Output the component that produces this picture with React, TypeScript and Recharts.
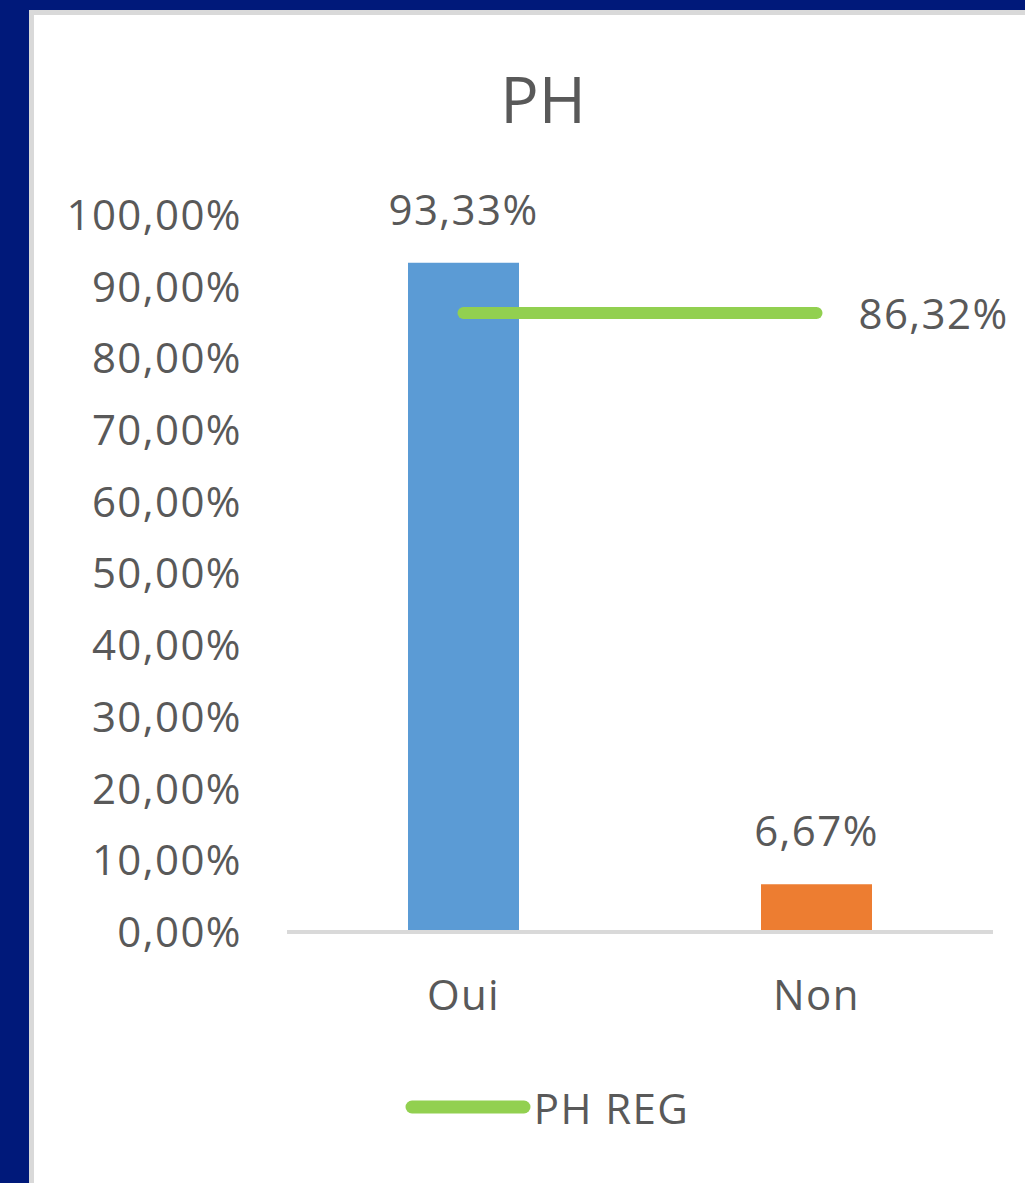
import { ComposedChart, Bar, Line, XAxis, YAxis, Legend, Cell, LabelList } from 'recharts';

const categories = ['Oui', 'Non'];
const phValues = [93.33, 6.67];
const phRegValues = [86.32, 86.32];
const barColors = ['#5b9bd5', '#ed7d31'];
const yTicks = [0, 10, 20, 30, 40, 50, 60, 70, 80, 90, 100];

const data = categories.map((c, i) => ({ name: c, ph: phValues[i], reg: phRegValues[i] }));

const FONT = '"Open Sans", sans-serif';
const GREY_TEXT = '#595959';
const SPACING = 1.4;

const fmt = (v: number) => v.toFixed(2).replace('.', ',') + '%';

// label only on the last point of the line, to its right
const RegLabel = (props: any) => {
    const { x, y, value, index } = props;
    if (index !== data.length - 1) return null;
    return (
        <text x={x + 42} y={y + 16} fill={GREY_TEXT} fontSize={42} fontFamily={FONT} letterSpacing={SPACING} textAnchor="start">
            {fmt(value)}
        </text>
    );
};

const LegendContent = () => (
    <div style={{ height: 50, display: 'flex', alignItems: 'center', justifyContent: 'center', fontFamily: FONT }}>
        <svg width={128} height={20} style={{ marginLeft: 100 }}>
            <line x1={8} y1={10} x2={120} y2={10} stroke="#92d050" strokeWidth={13} strokeLinecap="round" />
        </svg>
        <span style={{ fontSize: 42, color: GREY_TEXT, marginLeft: 2, letterSpacing: SPACING }}>PH REG</span>
    </div>
);

export default function App() {
    return (
        <div style={{ position: 'absolute', left: 0, top: 0, width: 1025, height: 1183, background: '#00197a', overflow: 'hidden' }}>
            <div style={{ position: 'absolute', left: 29, top: 10, width: 1000, height: 1180, background: '#fff', borderLeft: '5px solid #d9d9d9', borderTop: '5px solid #d9d9d9' }} />
            <div style={{ position: 'absolute', left: 0, top: 126 - 70, width: 1086, textAlign: 'center', fontFamily: FONT, fontSize: 64, color: GREY_TEXT, lineHeight: '86px' }}>
                PH
            </div>
            <div style={{ position: 'absolute', left: 0, top: 0 }}>
                <ComposedChart width={1025} height={1183} data={data} margin={{ top: 215, right: 32, bottom: 51, left: 0 }} barCategoryGap={0}>
                    <XAxis
                        dataKey="name"
                        height={150}
                        axisLine={{ stroke: '#d9d9d9', strokeWidth: 4 }}
                        tickLine={false}
                        tickSize={0}
                        tickMargin={48}
                        tick={{ fill: GREY_TEXT, fontSize: 42, fontFamily: FONT, letterSpacing: SPACING }}
                    />
                    <YAxis
                        width={287}
                        domain={[0, 100]}
                        ticks={yTicks}
                        tickFormatter={fmt}
                        axisLine={false}
                        tickLine={false}
                        tickSize={0}
                        tickMargin={45}
                        tick={{ fill: GREY_TEXT, fontSize: 42, fontFamily: FONT, letterSpacing: SPACING }}
                    />
                    <Legend verticalAlign="bottom" content={<LegendContent />} />
                    <Bar dataKey="ph" barSize={111} isAnimationActive={false} legendType="none">
                        {data.map((d, i) => (
                            <Cell key={d.name} fill={barColors[i]} />
                        ))}
                        <LabelList dataKey="ph" position="top" offset={38} formatter={(v: any) => fmt(Number(v))} fill={GREY_TEXT} fontSize={42} fontFamily={FONT} letterSpacing={SPACING} />
                    </Bar>
                    <Line dataKey="reg" stroke="#92d050" strokeWidth={12} strokeLinecap="round" dot={false} activeDot={false} isAnimationActive={false}>
                        <LabelList dataKey="reg" content={<RegLabel />} />
                    </Line>
                </ComposedChart>
            </div>
        </div>
    );
}
